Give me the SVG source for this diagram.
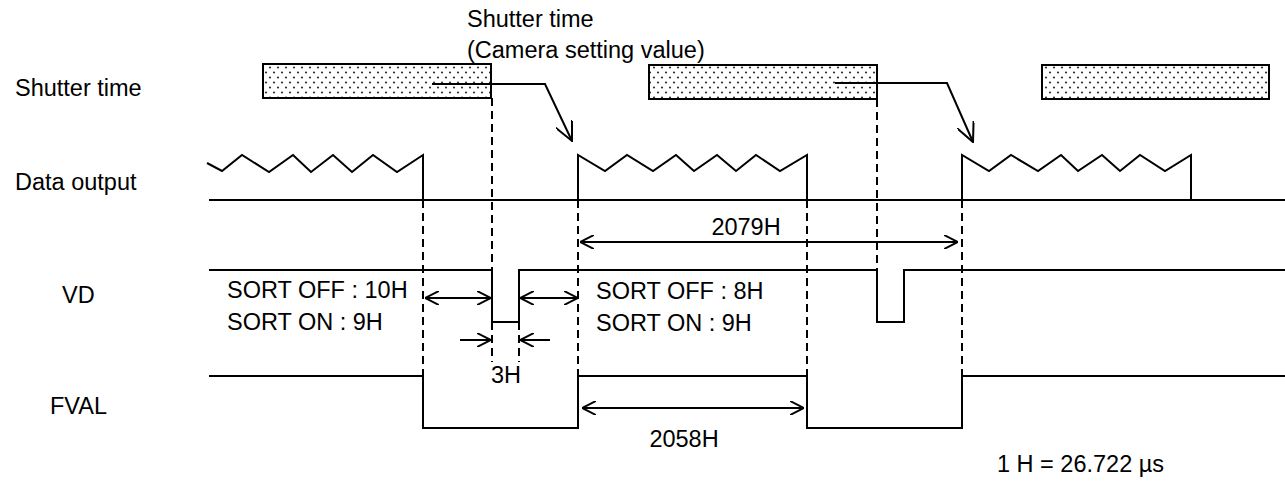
<svg xmlns="http://www.w3.org/2000/svg" width="1285" height="482" viewBox="0 0 1285 482">
<style>
text{font-family:"Liberation Sans",Arial,sans-serif;font-size:23.5px;fill:#000}
.w{fill:none;stroke:#000;stroke-width:2;stroke-linejoin:miter}
.d{fill:none;stroke:#000;stroke-width:2;stroke-dasharray:8 5}
.a{fill:none;stroke:#000;stroke-width:2}
.box{fill:url(#dots);stroke:#000;stroke-width:2}
</style>
<defs>
<pattern id="dots" width="8" height="10" patternUnits="userSpaceOnUse">
<rect width="8" height="10" fill="#fff"/>
<circle cx="2" cy="2.5" r="1.1" fill="#333"/>
<circle cx="6" cy="7.5" r="1.1" fill="#333"/>
</pattern>
<marker id="ah" viewBox="0 0 14 14" refX="14" refY="7" markerWidth="14" markerHeight="14" markerUnits="userSpaceOnUse" orient="auto-start-reverse">
<path d="M0,0 L14,7 L0,14" fill="none" stroke="#000" stroke-width="2"/>
</marker>
<marker id="ah2" viewBox="0 0 20 18" refX="19" refY="9" markerWidth="20" markerHeight="18" markerUnits="userSpaceOnUse" orient="auto">
<path d="M0,0 L19,9 L0,18" fill="none" stroke="#000" stroke-width="2"/>
</marker>
</defs>
<rect width="1285" height="482" fill="#fff"/>

<g id="labels">
<text x="15" y="96">Shutter time</text>
<text x="15" y="190">Data output</text>
<text x="62" y="303">VD</text>
<text x="50" y="414">FVAL</text>
</g>

<g id="shutter-note">
<text x="467" y="27">Shutter time</text>
<text x="467" y="58">(Camera setting value)</text>
</g>

<g id="shutter">
<rect class="box" x="263" y="64" width="228" height="34"/>
<rect class="box" x="649" y="65" width="228" height="34"/>
<rect class="box" x="1042" y="65" width="227" height="34"/>
</g>

<g id="data-output">
<line class="w" x1="209" y1="200" x2="1285" y2="200"/>
<polyline class="w" points="207,163 222,171 242,155 269,172 293,155 311,172 333,155 352,172 373,155 397,172 423,155 423,200"/>
<polyline class="w" points="578,200 578,155 605,171 627,155 653,171 676,155 694,171 717,155 736,171 756,155 780,171 807,155 807,200"/>
<polyline class="w" points="962,200 962,155 989,171 1011,155 1038,171 1061,155 1078,171 1102,155 1120,171 1140,155 1165,171 1191,155 1191,200"/>
</g>

<g id="vd">
<polyline class="w" points="209,270 492,270 492,322 519,322 519,270 877,270 877,322 904,322 904,270 1285,270"/>
</g>

<g id="fval">
<polyline class="w" points="209,376 423,376 423,428 578,428 578,376 807,376 807,428 962,428 962,376 1285,376"/>
</g>

<g id="guides">
<line class="d" x1="423" y1="200" x2="423" y2="376"/>
<line class="d" x1="492" y1="98" x2="492" y2="270"/>
<line class="d" x1="492" y1="322" x2="492" y2="362"/>
<line class="d" x1="519" y1="322" x2="519" y2="362"/>
<line class="d" x1="578" y1="200" x2="578" y2="376"/>
<line class="d" x1="807" y1="200" x2="807" y2="376"/>
<line class="d" x1="877" y1="99" x2="877" y2="270"/>
<line class="d" x1="962" y1="200" x2="962" y2="376"/>
</g>

<g id="connectors">
<polyline class="a" points="432,84 545,84 572,141" marker-end="url(#ah2)"/>
<polyline class="a" points="835,83 947,83 973,142" marker-end="url(#ah2)"/>
<line class="a" x1="580" y1="242" x2="958" y2="242" marker-start="url(#ah)" marker-end="url(#ah)"/>
<line class="a" x1="425" y1="298" x2="491" y2="298" marker-start="url(#ah)" marker-end="url(#ah)"/>
<line class="a" x1="520" y1="298" x2="578" y2="298" marker-start="url(#ah)" marker-end="url(#ah)"/>
<line class="a" x1="460" y1="340" x2="491" y2="340" marker-end="url(#ah)"/>
<line class="a" x1="550" y1="340" x2="520" y2="340" marker-end="url(#ah)"/>
<line class="a" x1="582" y1="408" x2="804" y2="408" marker-start="url(#ah)" marker-end="url(#ah)"/>
</g>

<g id="annotations">
<text x="746" y="235" text-anchor="middle">2079H</text>
<text x="227" y="298">SORT OFF : 10H</text>
<text x="227" y="330">SORT ON : 9H</text>
<text x="596" y="299">SORT OFF : 8H</text>
<text x="596" y="331">SORT ON : 9H</text>
<text x="506" y="383" text-anchor="middle">3H</text>
<text x="684" y="447" text-anchor="middle">2058H</text>
<text x="997" y="472">1 H = 26.722 µs</text>
</g>
</svg>
